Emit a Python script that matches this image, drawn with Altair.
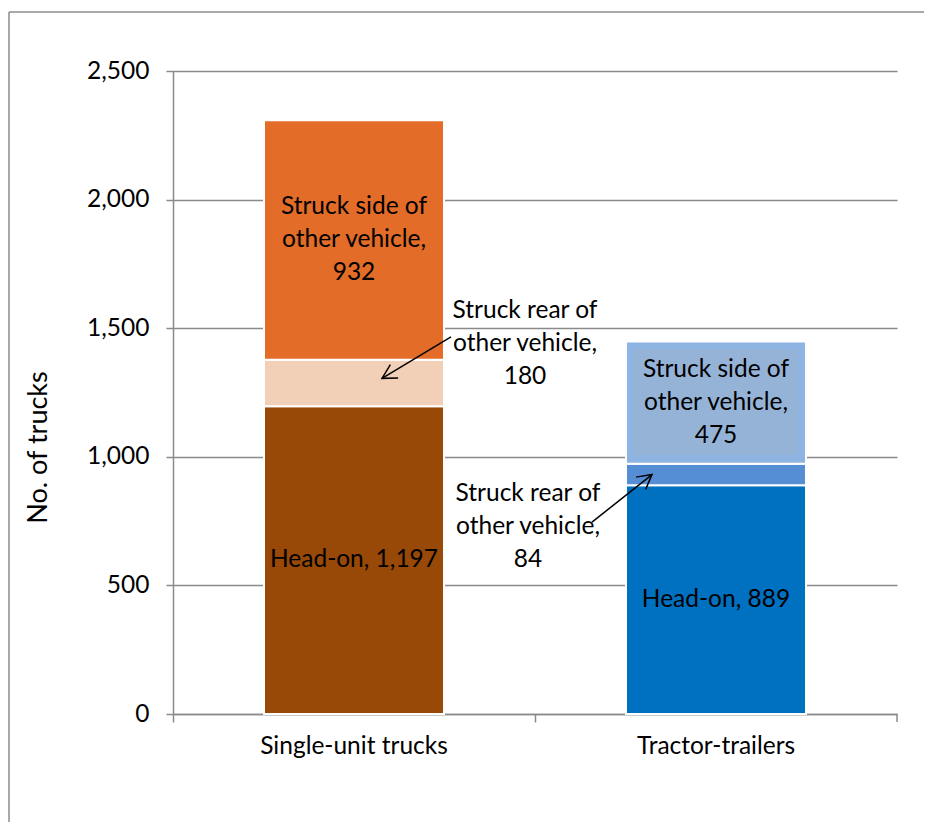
import altair as alt
import pandas as pd

categories = ["Single-unit trucks", "Tractor-trailers"]
segments = ["Head-on", "Struck rear of other vehicle", "Struck side of other vehicle"]
single_values = [1197, 180, 932]
tractor_values = [889, 84, 475]
single_colors = ["#984807", "#F2CFB7", "#E26C28"]
tractor_colors = ["#0070C0", "#558ED5", "#8EB4E3"]
y_ticks = [0, 500, 1000, 1500, 2000, 2500]

FONT = "Lato"
FS = 24.5
GRAY = "#8a8a8a"

rows = []
for cat, vals in zip(categories, [single_values, tractor_values]):
    base = 0
    for i, (seg, v) in enumerate(zip(segments, vals)):
        rows.append({"cat": cat, "seg": seg, "idx": i, "value": v,
                     "key": f"{cat}|{seg}", "mid": base + v / 2})
        base += v
df = pd.DataFrame(rows)
keys = list(df["key"])
colors = single_colors + tractor_colors


def label_text(seg, v):
    if seg == "Head-on":
        return f"Head-on, {v:,}"
    if seg.startswith("Struck side"):
        return f"Struck side of\nother vehicle,\n{v:,}"
    return f"Struck rear of\nother vehicle,\n{v:,}"


df["label"] = [label_text(s, v) for s, v in zip(df["seg"], df["value"])]
head_labels = df[df["idx"] == 0]
side_labels = df[df["idx"] == 2]
rear = df[df["idx"] == 1].reset_index(drop=True)

one = pd.DataFrame({"a": [0]})

frame_top = alt.Chart(one).mark_rule(color="#8c8c8c", strokeWidth=1.5, clip=False).encode(
    x=alt.value(-164), x2=alt.value(780), y=alt.value(-59))
frame_left = alt.Chart(one).mark_rule(color="#8c8c8c", strokeWidth=1.5, clip=False).encode(
    x=alt.value(-164), y=alt.value(-59), y2=alt.value(900))

bars = alt.Chart(df).mark_bar(width=180, stroke="white", strokeWidth=2).encode(
    x=alt.X("cat:N", sort=categories,
            scale=alt.Scale(paddingInner=0, paddingOuter=0),
            axis=alt.Axis(title=None, bandPosition=0, tickSize=8, labelPadding=12,
                          labelAngle=0, labelBaseline="top", labelLimit=500)),
    y=alt.Y("value:Q", stack="zero",
            scale=alt.Scale(domain=[0, 2500], nice=False),
            axis=alt.Axis(values=y_ticks, format=",d", title="No. of trucks",
                          tickSize=7, labelPadding=17,
                          titleAngle=270, titleX=-135, titleY=376,
                          titleAlign="center", titleBaseline="middle")),
    color=alt.Color("key:N", scale=alt.Scale(domain=keys, range=colors), legend=None),
    order=alt.Order("idx:Q"),
)

label_box = alt.Chart(one).mark_rect(color="#95B3D7").encode(
    x=alt.value(460), x2=alt.value(625), y=alt.datum(1419), y2=alt.datum(1007))

head_text = alt.Chart(head_labels).mark_text(
    font=FONT, fontSize=FS, color="black", baseline="middle", align="center").encode(
    x=alt.X("cat:N", sort=categories), y=alt.Y("mid:Q"), text="label:N")

side_text = alt.Chart(side_labels).mark_text(
    font=FONT, fontSize=FS, color="black", lineBreak="\n", lineHeight=33,
    baseline="middle", align="center", dy=-33).encode(
    x=alt.X("cat:N", sort=categories), y=alt.Y("mid:Q"), text="label:N")

rear_single = alt.Chart(one).mark_text(
    font=FONT, fontSize=FS, color="black", lineBreak="\n", lineHeight=33,
    baseline="middle", align="center", dx=171, dy=-33).encode(
    x=alt.datum(categories[0]), y=alt.datum(1439), text=alt.value(rear.loc[0, "label"]))

rear_tractor = alt.Chart(one).mark_text(
    font=FONT, fontSize=FS, color="black", lineBreak="\n", lineHeight=33,
    baseline="middle", align="center", dx=-188, dy=-33).encode(
    x=alt.datum(categories[1]), y=alt.datum(727), text=alt.value(rear.loc[1, "label"]))

arrow1 = alt.Chart(one).mark_rule(color="black", strokeWidth=1.5).encode(
    x=alt.value(278), x2=alt.value(209), y=alt.datum(1466), y2=alt.datum(1305))
head1 = alt.Chart(one).mark_point(shape="M-1,-0.55L0,0L-1,0.55", filled=False,
                                  stroke="black", strokeWidth=1.5, size=800,
                                  angle=150, opacity=1).encode(
    x=alt.value(209), y=alt.datum(1305))

arrow2 = alt.Chart(one).mark_rule(color="black", strokeWidth=1.5).encode(
    x=alt.value(419), x2=alt.value(479), y=alt.datum(746), y2=alt.datum(931))
head2 = alt.Chart(one).mark_point(shape="M-1,-0.55L0,0L-1,0.55", filled=False,
                                  stroke="black", strokeWidth=1.5, size=800,
                                  angle=322, opacity=1).encode(
    x=alt.value(479), y=alt.datum(931))

end_tick = alt.Chart(one).mark_rule(color=GRAY, strokeWidth=1.5).encode(
    x=alt.value(724), y=alt.value(643), y2=alt.value(651))

chart = alt.layer(frame_top, frame_left, bars, label_box, head_text, side_text,
                  rear_single, rear_tractor, arrow1, head1, arrow2, head2, end_tick).properties(
    width=724, height=643,
    padding={"left": 165, "top": 63, "right": 27, "bottom": 108},
    autosize=alt.AutoSizeParams(type="none"),
).configure_view(stroke=None).configure_axis(
    labelFont=FONT, labelFontSize=FS, labelColor="black",
    titleFont=FONT, titleFontSize=27, titleColor="black", titleFontWeight="normal",
    domainColor=GRAY, domainWidth=1.5, tickColor=GRAY, tickWidth=1.5,
    gridColor=GRAY, gridWidth=1.5,
).configure_axisX(grid=False).configure_axisY(grid=True)

chart.save("out.html", embed_options={"renderer": "svg", "actions": False})
